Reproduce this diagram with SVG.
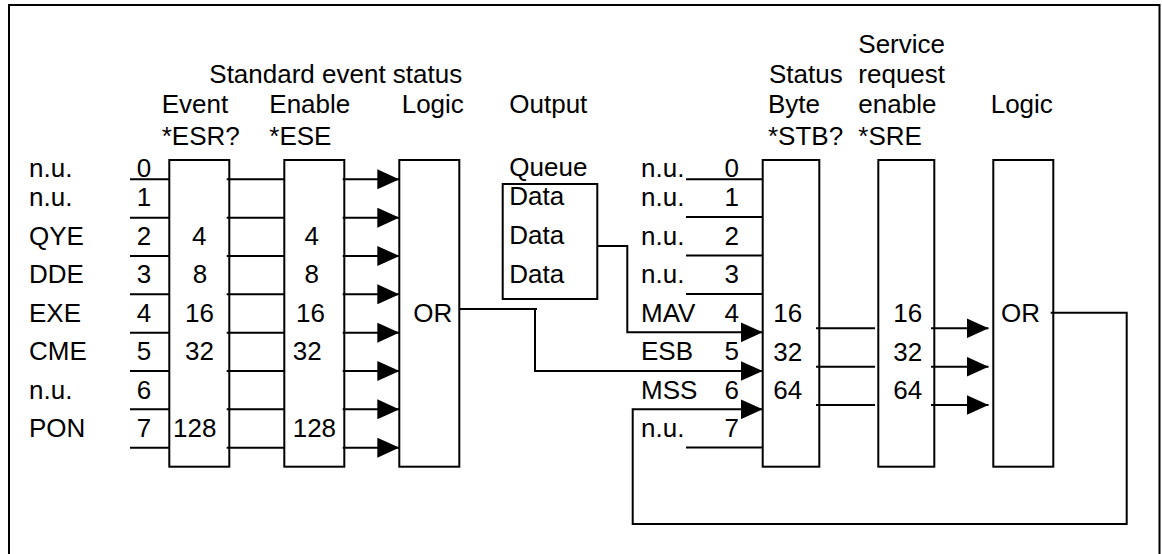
<svg xmlns="http://www.w3.org/2000/svg" width="1162" height="554" viewBox="0 0 1162 554">
<style>
text{font-family:"Liberation Sans",Arial,sans-serif;font-size:26px;fill:#000}
.box{fill:#fff;stroke:#000;stroke-width:2}
.ln{fill:none;stroke:#000;stroke-width:2}
.mid{text-anchor:middle}
</style>
<defs>
<marker id="arr" viewBox="0 0 22 20" refX="22" refY="10" markerWidth="22" markerHeight="20" markerUnits="userSpaceOnUse" orient="auto">
<path d="M0,0 L22,10 L0,20 Z" fill="#000"/>
</marker>
</defs>
<rect width="1162" height="554" fill="#fff"/>
<path class="ln" d="M9,560 V5 H1159.5 V560"/>

<g id="headers">
<text x="209.3" y="83.3">Standard event status</text>
<text x="161.7" y="113.3">Event</text>
<text x="269.3" y="113.3">Enable</text>
<text x="401.7" y="113.3">Logic</text>
<text x="509.3" y="113.3">Output</text>
<text x="161.7" y="145">*ESR?</text>
<text x="269.3" y="145">*ESE</text>
<text x="858.3" y="53.3">Service</text>
<text x="769" y="83.3">Status</text>
<text x="858.3" y="83.3">request</text>
<text x="768" y="113.3">Byte</text>
<text x="858.3" y="113.3">enable</text>
<text x="990.7" y="113.3">Logic</text>
<text x="768" y="145">*STB?</text>
<text x="858.3" y="145">*SRE</text>
</g>

<g id="left-labels">
<text x="29" y="176.7">n.u.</text>
<text x="29" y="206">n.u.</text>
<text x="29" y="244.5">QYE</text>
<text x="29" y="283">DDE</text>
<text x="29" y="321.5">EXE</text>
<text x="29" y="360">CME</text>
<text x="29" y="398.5">n.u.</text>
<text x="29" y="437">PON</text>
<text class="mid" x="144" y="176.7">0</text>
<text class="mid" x="144" y="206">1</text>
<text class="mid" x="144" y="244.5">2</text>
<text class="mid" x="144" y="283">3</text>
<text class="mid" x="144" y="321.5">4</text>
<text class="mid" x="144" y="360">5</text>
<text class="mid" x="144" y="398.5">6</text>
<text class="mid" x="144" y="437">7</text>
</g>

<g id="esr">
<rect class="box" x="169.3" y="160" width="60" height="306.7"/>
<text x="192" y="244.5">4</text>
<text x="192.7" y="283">8</text>
<text x="185" y="321.5">16</text>
<text x="185" y="360">32</text>
<text x="173" y="437">128</text>
</g>

<g id="ese">
<rect class="box" x="284.3" y="160" width="60" height="306.7"/>
<text x="304.5" y="244.5">4</text>
<text x="304.5" y="283">8</text>
<text x="296" y="321.5">16</text>
<text x="292.7" y="360">32</text>
<text x="292.7" y="437">128</text>
</g>

<g id="or-left">
<rect class="box" x="399.3" y="160" width="60" height="306.7"/>
<text x="413.3" y="322.3">OR</text>
</g>

<g id="queue">
<text x="509.3" y="176">Queue</text>
<rect class="box" x="502.7" y="184" width="94.6" height="115"/>
<text x="509.3" y="205">Data</text>
<text x="509.3" y="244.3">Data</text>
<text x="509.3" y="282.7">Data</text>
</g>

<g id="right-labels">
<text x="641" y="176.7">n.u.</text>
<text x="641" y="206">n.u.</text>
<text x="641" y="244.5">n.u.</text>
<text x="641" y="283">n.u.</text>
<text x="641" y="321.5">MAV</text>
<text x="641" y="360">ESB</text>
<text x="641" y="398.5">MSS</text>
<text x="641" y="437">n.u.</text>
<text class="mid" x="731.7" y="176.7">0</text>
<text class="mid" x="731.7" y="206">1</text>
<text class="mid" x="731.7" y="244.5">2</text>
<text class="mid" x="731.7" y="283">3</text>
<text class="mid" x="731.7" y="321.5">4</text>
<text class="mid" x="731.7" y="360">5</text>
<text class="mid" x="731.7" y="398.5">6</text>
<text class="mid" x="731.7" y="437">7</text>
</g>

<g id="stb">
<rect class="box" x="762.7" y="160" width="56.6" height="306.7"/>
<text x="773.3" y="322.3">16</text>
<text x="773.3" y="360.7">32</text>
<text x="773.3" y="399">64</text>
</g>

<g id="sre">
<rect class="box" x="878.3" y="160" width="56" height="306.7"/>
<text x="893.3" y="322.3">16</text>
<text x="893.3" y="360.7">32</text>
<text x="893.3" y="399">64</text>
</g>

<g id="or-right">
<rect class="box" x="993.3" y="160" width="60" height="306.7"/>
<text x="1001" y="322.3">OR</text>
</g>

<g id="connectors">
<g id="esr-inputs">
<path class="ln" d="M130,179.3H169.3M130,217.7H169.3M130,256H169.3M130,294.3H169.3M130,332.7H169.3M130,371H169.3M130,409.3H169.3M130,447.7H169.3"/>
</g>
<g id="esr-ese">
<path class="ln" d="M226.7,179.3H284.3M226.7,217.7H284.3M226.7,256H284.3M226.7,294.3H284.3M226.7,332.7H284.3M226.7,371H284.3M226.7,409.3H284.3M226.7,447.7H284.3"/>
</g>
<g id="ese-or">
<line class="ln" x1="342.7" y1="179.3" x2="399.3" y2="179.3" marker-end="url(#arr)"/>
<line class="ln" x1="342.7" y1="217.7" x2="399.3" y2="217.7" marker-end="url(#arr)"/>
<line class="ln" x1="342.7" y1="256" x2="399.3" y2="256" marker-end="url(#arr)"/>
<line class="ln" x1="342.7" y1="294.3" x2="399.3" y2="294.3" marker-end="url(#arr)"/>
<line class="ln" x1="342.7" y1="332.7" x2="399.3" y2="332.7" marker-end="url(#arr)"/>
<line class="ln" x1="342.7" y1="371" x2="399.3" y2="371" marker-end="url(#arr)"/>
<line class="ln" x1="342.7" y1="409.3" x2="399.3" y2="409.3" marker-end="url(#arr)"/>
<line class="ln" x1="342.7" y1="447.7" x2="399.3" y2="447.7" marker-end="url(#arr)"/>
</g>
<g id="stb-inputs">
<path class="ln" d="M686,179.3H762.7M686,217H762.7M686,255.5H762.7M686,294H762.7M686,447.5H762.7"/>
<polyline class="ln" points="597.3,246 627.3,246 627.3,332.3 762.7,332.3" marker-end="url(#arr)"/>
<polyline class="ln" points="459.3,309 537,309" />
<polyline class="ln" points="535,309 535,371 762.7,371" marker-end="url(#arr)"/>
<polyline class="ln" points="1050.7,312.7 1126.7,312.7 1126.7,524 632.7,524 632.7,409.3 762.7,409.3" marker-end="url(#arr)"/>
</g>
<g id="stb-sre">
<path class="ln" d="M816,328.3H875M816,366.7H875M816,405H875"/>
</g>
<g id="sre-or">
<line class="ln" x1="931" y1="328.3" x2="988.5" y2="328.3" marker-end="url(#arr)"/>
<line class="ln" x1="931" y1="366.7" x2="988.5" y2="366.7" marker-end="url(#arr)"/>
<line class="ln" x1="931" y1="405" x2="988.5" y2="405" marker-end="url(#arr)"/>
</g>
</g>
</svg>
